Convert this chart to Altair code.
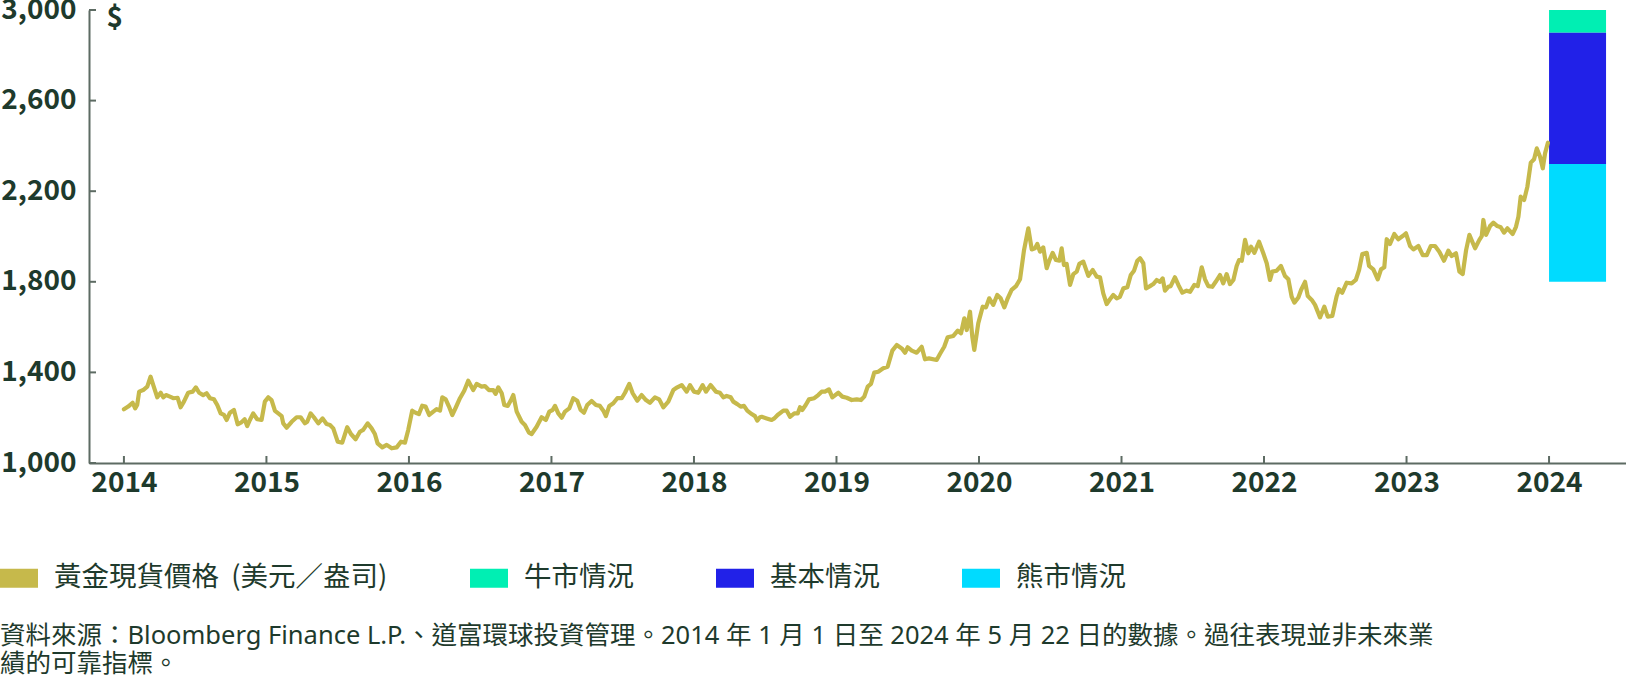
import json
import altair as alt
import pandas as pd

FONT = "Noto Sans CJK TC"
NOTE_FONT = "Noto Sans, Noto Sans CJK TC"
TXT = "#1e3a2c"
AXC = "#5d6b63"

# ---- axis labels ----
year_labels = [str(y) for y in range(2014, 2025)]
year_pos = list(range(11))
y_ticks = [1000, 1400, 1800, 2200, 2600, 3000]

# ---- gold spot price (position along the axis, price in USD/oz) ----
seg_a_pos = [0.000, 0.030, 0.061, 0.079, 0.093, 0.107, 0.135, 0.164, 0.187, 0.206, 0.234, 0.258, 0.276, 0.295,
             0.323, 0.346, 0.377, 0.398, 0.421, 0.451, 0.482, 0.505, 0.528, 0.556, 0.580, 0.604, 0.632, 0.655,
             0.679, 0.702, 0.721, 0.744, 0.772, 0.798, 0.821, 0.847, 0.865, 0.884, 0.907, 0.935, 0.966, 0.989]
seg_a_val = [1237, 1249, 1266, 1241, 1256, 1315, 1322, 1337, 1381, 1344, 1290, 1310, 1290, 1300,
             1293, 1286, 1288, 1246, 1271, 1310, 1315, 1334, 1310, 1300, 1308, 1286, 1281, 1256,
             1219, 1212, 1190, 1222, 1234, 1171, 1178, 1193, 1163, 1190, 1219, 1193, 1190, 1271]

seg_b_pos = [1.013, 1.036, 1.060, 1.083, 1.107, 1.118, 1.142, 1.177, 1.212, 1.240, 1.270, 1.286, 1.310, 1.333,
             1.364, 1.394, 1.422, 1.446, 1.469, 1.500, 1.532, 1.567, 1.593, 1.626, 1.656, 1.679, 1.710, 1.738,
             1.761, 1.780, 1.813, 1.844, 1.879, 1.914, 1.944, 1.972, 1.995]
seg_b_val = [1290, 1278, 1230, 1219, 1207, 1175, 1156, 1182, 1202, 1202, 1175, 1182, 1219, 1202,
             1175, 1197, 1172, 1168, 1153, 1094, 1090, 1158, 1128, 1105, 1138, 1146, 1175, 1153,
             1128, 1087, 1069, 1080, 1065, 1069, 1094, 1090, 1146]

seg_c_pos = [2.023, 2.047, 2.070, 2.093, 2.117, 2.142, 2.171, 2.194, 2.218, 2.234, 2.258, 2.281, 2.304, 2.328,
             2.358, 2.388, 2.416, 2.451, 2.475, 2.510, 2.533, 2.561, 2.592, 2.608, 2.627, 2.651, 2.669, 2.693,
             2.716, 2.732, 2.756, 2.791, 2.814, 2.842, 2.861, 2.896, 2.931, 2.961, 2.985]
seg_c_val = [1231, 1222, 1216, 1253, 1249, 1212, 1227, 1238, 1231, 1290, 1281, 1249, 1212, 1244,
             1286, 1319, 1363, 1322, 1349, 1337, 1340, 1322, 1322, 1305, 1334, 1308, 1256, 1252,
             1278, 1300, 1227, 1182, 1168, 1134, 1128, 1160, 1202, 1190, 1227]

seg_d_pos = [3.008, 3.025, 3.048, 3.072, 3.095, 3.125, 3.153, 3.181, 3.205, 3.228, 3.251, 3.282, 3.312, 3.340,
             3.364, 3.382, 3.406, 3.434, 3.462, 3.493, 3.516, 3.546, 3.570, 3.602, 3.633, 3.663, 3.691, 3.726,
             3.756, 3.785, 3.820, 3.855, 3.883, 3.914, 3.949, 3.972, 4.000, 4.030, 4.061, 4.084, 4.117, 4.154,
             4.182, 4.206, 4.229, 4.258, 4.276, 4.304, 4.328, 4.351, 4.374, 4.405, 4.428, 4.444, 4.463]
seg_d_val = [1234, 1252, 1219, 1200, 1227, 1241, 1286, 1275, 1234, 1222, 1256, 1274, 1256, 1252,
             1231, 1207, 1252, 1264, 1286, 1286, 1310, 1349, 1308, 1275, 1300, 1278, 1266, 1290,
             1281, 1246, 1271, 1322, 1334, 1344, 1315, 1344, 1315, 1310, 1344, 1315, 1344, 1315,
             1310, 1290, 1296, 1290, 1271, 1260, 1249, 1252, 1231, 1216, 1207, 1187, 1202]

seg_e_pos = [4.475, 4.510, 4.545, 4.564, 4.587, 4.627, 4.651, 4.674, 4.704, 4.728, 4.744, 4.760, 4.784, 4.807,
             4.844, 4.872, 4.896, 4.919, 4.947, 4.971, 5.013, 5.041, 5.072, 5.107, 5.142, 5.172, 5.195, 5.219,
             5.242, 5.265, 5.293, 5.328, 5.359, 5.392, 5.423, 5.458, 5.481, 5.500, 5.528, 5.563, 5.598, 5.621,
             5.649, 5.703, 5.726, 5.756, 5.780, 5.820, 5.851, 5.874, 5.897, 5.914, 5.937, 5.953, 5.967]
seg_e_val = [1204, 1197, 1190, 1197, 1212, 1231, 1231, 1204, 1219, 1219, 1246, 1234, 1256, 1281,
             1286, 1300, 1315, 1315, 1325, 1290, 1310, 1293, 1288, 1278, 1281, 1278, 1293, 1337,
             1349, 1399, 1403, 1418, 1425, 1496, 1521, 1506, 1487, 1511, 1496, 1487, 1513, 1458,
             1462, 1455, 1481, 1513, 1555, 1561, 1584, 1573, 1639, 1587, 1668, 1558, 1499]

seg_f_pos = [5.995, 6.026, 6.049, 6.072, 6.100, 6.128, 6.152, 6.178, 6.199, 6.229, 6.260, 6.288, 6.316, 6.346,
             6.370, 6.393, 6.409, 6.428, 6.451, 6.475, 6.493, 6.517, 6.540, 6.564, 6.580, 6.596, 6.615, 6.639,
             6.662, 6.686, 6.704, 6.732, 6.767, 6.798, 6.826, 6.849, 6.872, 6.896, 6.919, 6.942, 6.966, 6.989,
             7.013, 7.041, 7.065, 7.088, 7.111, 7.130, 7.153, 7.172, 7.200, 7.223, 7.247, 7.270, 7.289, 7.305,
             7.328, 7.345, 7.375, 7.399]
seg_f_val = [1617, 1690, 1687, 1727, 1698, 1742, 1727, 1687, 1723, 1764, 1781, 1811, 1940, 2036,
             1943, 1948, 1967, 1933, 1952, 1860, 1893, 1928, 1896, 1893, 1948, 1874, 1879, 1786,
             1834, 1845, 1879, 1889, 1826, 1852, 1823, 1820, 1749, 1702, 1723, 1742, 1727, 1734,
             1771, 1776, 1830, 1849, 1893, 1904, 1882, 1771, 1781, 1790, 1808, 1800, 1815, 1761,
             1778, 1781, 1820, 1786]

seg_g_pos = [7.427, 7.457, 7.481, 7.511, 7.535, 7.563, 7.586, 7.609, 7.637, 7.661, 7.691, 7.714, 7.738, 7.761,
             7.785, 7.808, 7.825, 7.844, 7.867, 7.890, 7.909, 7.932, 7.965, 7.995, 8.019, 8.042, 8.058, 8.089,
             8.119, 8.147, 8.171, 8.194, 8.213, 8.241, 8.260, 8.288, 8.307, 8.335, 8.358, 8.393, 8.423, 8.447,
             8.479, 8.510, 8.526, 8.549, 8.580, 8.615, 8.644, 8.667, 8.690, 8.721, 8.737, 8.767, 8.798, 8.821,
             8.844, 8.861, 8.884, 8.914]
seg_g_val = [1752, 1761, 1756, 1786, 1781, 1864, 1811, 1781, 1778, 1800, 1830, 1793, 1834, 1790,
             1808, 1870, 1896, 1893, 1985, 1926, 1955, 1928, 1977, 1926, 1882, 1808, 1845, 1849,
             1870, 1826, 1811, 1734, 1708, 1731, 1764, 1800, 1737, 1720, 1698, 1643, 1690, 1646,
             1649, 1737, 1767, 1752, 1796, 1793, 1808, 1852, 1923, 1928, 1870, 1855, 1811, 1855,
             1864, 1988, 1967, 2011]

seg_h_pos = [8.942, 8.973, 8.996, 9.025, 9.048, 9.083, 9.114, 9.142, 9.170, 9.200, 9.230, 9.263, 9.293, 9.317,
             9.347, 9.371, 9.394, 9.418, 9.441, 9.481, 9.511, 9.528, 9.539, 9.558, 9.586, 9.609, 9.637, 9.661,
             9.684, 9.708, 9.745, 9.768, 9.785, 9.801, 9.825, 9.848, 9.872, 9.895, 9.914, 9.937, 9.956, 9.972,
             9.992]
seg_h_val = [1988, 2002, 2014, 1958, 1943, 1958, 1918, 1918, 1958, 1958, 1933, 1893, 1937, 1914,
             1926, 1845, 1834, 1940, 2007, 1948, 1985, 2002, 2073, 2007, 2046, 2061, 2046, 2041,
             2017, 2036, 2011, 2043, 2087, 2176, 2161, 2220, 2326, 2341, 2389, 2352, 2301, 2367,
             2414]

segments = [(seg_a_pos, seg_a_val), (seg_b_pos, seg_b_val), (seg_c_pos, seg_c_val), (seg_d_pos, seg_d_val),
            (seg_e_pos, seg_e_val), (seg_f_pos, seg_f_val), (seg_g_pos, seg_g_val), (seg_h_pos, seg_h_val)]
pos, price = [], []
for p, v in segments:
    assert len(p) == len(v), (len(p), len(v))
    pos += p
    price += v

# ---- scenarios ----
gold_name = "黃金現貨價格\u00a0\u00a0(美元／盎司)"
scenario_names = ["牛市情況", "基本情況", "熊市情況"]
scenario_low = [2900, 2320, 1800]
scenario_high = [3000, 2900, 2320]
series_colors = ["#c6b94b", "#00efb3", "#2121e8", "#00dbff"]

footnote = [
    "資料來源：Bloomberg Finance L.P.、道富環球投資管理。2014 年 1 月 1 日至 2024 年 5 月 22 日的數據。過往表現並非未來業",
    "績的可靠指標。",
]

line_df = pd.DataFrame({"pos": pos, "price": price, "series": gold_name})
bar_df = pd.DataFrame({"series": scenario_names, "low": scenario_low, "high": scenario_high})
xtick_df = pd.DataFrame({"pos": year_pos})
ytick_df = pd.DataFrame({"price": y_ticks})
note_df = pd.DataFrame({"k": [0]})

x_scale = alt.Scale(domain=[-0.245, 10.54], nice=False, zero=False)
y_scale = alt.Scale(domain=[1000, 3000], nice=False, zero=False)
color_scale = alt.Scale(domain=[gold_name] + scenario_names, range=series_colors)

x_axis = alt.Axis(values=year_pos, labelExpr=json.dumps(year_labels) + "[datum.value]",
                  tickSize=0, domainColor=AXC, domainWidth=2, grid=False, title=None,
                  labelFont=FONT, labelFontSize=28, labelFontWeight="bold", labelColor=TXT,
                  labelPadding=6, labelFlush=False)
y_axis = alt.Axis(values=y_ticks, format=",.0f", tickSize=0, domainColor=AXC, domainWidth=2, grid=False,
                  labelFont=FONT, labelFontSize=28, labelFontWeight="bold", labelColor=TXT,
                  labelPadding=13, labelFlush=False,
                  title="$", titleAngle=0, titleX=17, titleY=8, titleAlign="left", titleBaseline="middle",
                  titleFont=FONT, titleFontSize=28, titleFontWeight="bold", titleColor=TXT)

legend = alt.Legend(title=None, orient="none", legendX=-89, legendY=549, direction="horizontal", columns=4,
                    symbolType="M-1,-0.5H1V0.5H-1Z", symbolSize=1444, symbolStrokeWidth=0, symbolOpacity=1,
                    labelFont=FONT, labelFontSize=27.5, labelColor=TXT, labelOffset=16, columnPadding=82,
                    labelLimit=1000)

bars = alt.Chart(bar_df).mark_bar(opacity=1).encode(
    x=alt.X(datum=10, type="quantitative", scale=x_scale, axis=x_axis),
    x2=alt.X2(datum=10.4),
    y=alt.Y("low:Q", scale=y_scale, axis=y_axis),
    y2="high:Q",
    color=alt.Color("series:N", scale=color_scale, legend=legend),
)

line = alt.Chart(line_df).mark_line(strokeWidth=4.2, strokeJoin="round", strokeCap="round").encode(
    x=alt.X("pos:Q", scale=x_scale, axis=x_axis),
    y=alt.Y("price:Q", scale=y_scale, axis=y_axis),
    color=alt.Color("series:N", scale=color_scale, legend=legend),
)

xticks = alt.Chart(xtick_df).mark_rule(color=AXC, strokeWidth=2).encode(
    x=alt.X("pos:Q", scale=x_scale, axis=x_axis),
    y=alt.value(453), y2=alt.value(446),
)
yticks = alt.Chart(ytick_df).mark_rule(color=AXC, strokeWidth=2).encode(
    y=alt.Y("price:Q", scale=y_scale, axis=y_axis),
    x=alt.value(0), x2=alt.value(7),
)

note = alt.Chart(note_df).mark_text(
    align="left", baseline="top", font=NOTE_FONT, fontSize=25.5, color=TXT, lineHeight=28,
).encode(
    x=alt.value(-89), y=alt.value(614), text=alt.value(footnote),
)

chart = alt.layer(bars, line, xticks, yticks, note).properties(
    width=1537, height=453,
    autosize=alt.AutoSizeParams(type="none"),
    padding={"left": 89, "top": 10, "right": 0, "bottom": 221},
    background="white",
).configure_view(stroke="transparent")

chart.save("out.html", embed_options={"renderer": "svg", "actions": False})
